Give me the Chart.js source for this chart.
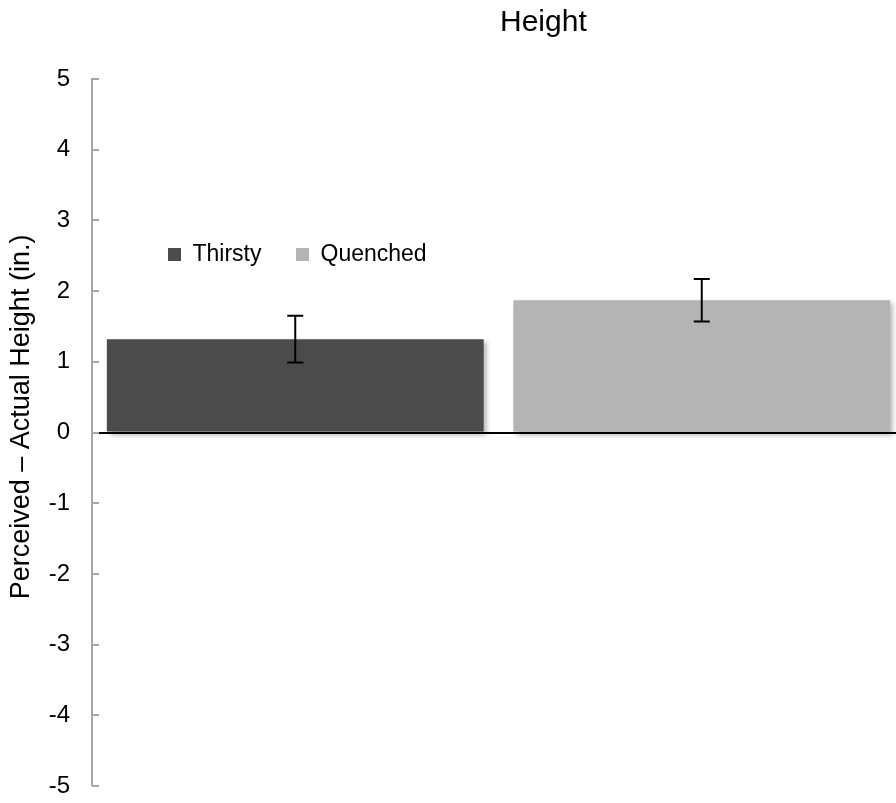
<!DOCTYPE html>
<html>
<head>
<meta charset="utf-8">
<script src="https://cdn.jsdelivr.net/npm/chart.js@4"></script>
<style>
  html, body { margin: 0; padding: 0; background: #fff; overflow: hidden; }
  #wrap { position: relative; width: 910px; height: 803px; }
  #heightChart { display: block; }
  #title {
    position: absolute; left: 500px; top: 6px;
    font: 30px/30px "Liberation Sans", Arial, Helvetica, sans-serif;
    color: #000; white-space: nowrap;
  }
</style>
</head>
<body>
<div id="wrap">
  <div id="title">Height</div>
  <canvas id="heightChart" width="910" height="803"></canvas>
</div>
<script>
// values
const categories = ['Height'];
const groups = ['Thirsty', 'Quenched'];
const thirsty = [1.32];
const quenched = [1.87];
const thirstyErr = [0.33];
const quenchedErr = [0.30];
const yTicks = [-5, -4, -3, -2, -1, 0, 1, 2, 3, 4, 5];
const yTitle = 'Perceived – Actual Height (in.)';

const fontFamily = '"Liberation Sans", Arial, Helvetica, sans-serif';
Chart.defaults.font.family = fontFamily;
Chart.defaults.color = '#000';

const axisGray = '#a8a8a8';

// move the legend inside the plot, without it taking layout space
const legendSpot = {
    id: 'legendSpot',
    beforeUpdate(chart) {
        const lg = chart.legend;
        if (!lg || lg._spotted) return;
        const fit = lg.fit;
        lg.fit = function () {
            fit.call(this);
            this._fullH = this.height;
            this.height = 0;
        };
        lg._spotted = true;
    },
    afterLayout(chart) {
        const lg = chart.legend;
        lg.left = 133.5;
        lg.top = 208.5;
        lg.width = 500;
        lg.height = lg._fullH;
        lg.right = lg.left + lg.width;
        lg.bottom = lg.top + lg.height;
    }
};

// soft shadow under bars, then error bars, inward ticks and axis title
const barExtras = {
    id: 'barExtras',
    beforeDatasetsDraw(chart) {
        const ctx = chart.ctx;
        ctx.save();
        ctx.shadowColor = 'rgba(0,0,0,0.3)';
        ctx.shadowBlur = 5;
        ctx.shadowOffsetX = 3;
        ctx.shadowOffsetY = 3;
    },
    afterDatasetsDraw(chart) {
        const ctx = chart.ctx;
        ctx.restore();
        const y = chart.scales.y;
        ctx.save();
        ctx.strokeStyle = '#000';
        ctx.lineWidth = 2;
        chart.data.datasets.forEach((ds, i) => {
            const meta = chart.getDatasetMeta(i);
            meta.data.forEach((bar, j) => {
                const v = ds.data[j], e = ds.errors[j];
                const top = y.getPixelForValue(v + e);
                const bot = y.getPixelForValue(v - e);
                const x = bar.x, cap = 8;
                ctx.beginPath();
                ctx.moveTo(x, top); ctx.lineTo(x, bot);
                ctx.moveTo(x - cap, top); ctx.lineTo(x + cap, top);
                ctx.moveTo(x - cap, bot); ctx.lineTo(x + cap, bot);
                ctx.stroke();
            });
        });
        ctx.restore();
    },
    afterDraw(chart) {
        const y = chart.scales.y;
        const ctx = chart.ctx;
        const x0 = chart.chartArea.left;
        ctx.save();
        ctx.strokeStyle = axisGray;
        ctx.lineWidth = 2;
        ctx.beginPath();
        y.ticks.forEach(t => {
            const py = Math.round(y.getPixelForValue(t.value));
            ctx.moveTo(x0, py);
            ctx.lineTo(x0 + 7, py);
        });
        ctx.stroke();
        // axis title, sitting a little above the middle as in the original
        ctx.translate(22, y.getPixelForValue(0.22));
        ctx.rotate(-Math.PI / 2);
        ctx.font = '27px ' + fontFamily;
        ctx.fillStyle = '#000';
        ctx.textAlign = 'center';
        ctx.textBaseline = 'middle';
        ctx.fillText(yTitle, 0, 0);
        ctx.restore();
    }
};

let heightChart;

function initChart() {
    heightChart = new Chart(document.getElementById('heightChart'), {
        type: 'bar',
        data: {
            labels: categories,
            datasets: [{
                label: groups[0],
                data: thirsty,
                errors: thirstyErr,
                backgroundColor: '#4b4b4b',
                borderWidth: 0
            }, {
                label: groups[1],
                data: quenched,
                errors: quenchedErr,
                backgroundColor: '#b4b4b4',
                borderWidth: 0
            }]
        },
        options: {
            responsive: false,
            animation: false,
            categoryPercentage: 1,
            barPercentage: 0.927,
            layout: {
                padding: { left: 0, right: 5, top: 79, bottom: 17 }
            },
            plugins: {
                title: { display: false },
                tooltip: { enabled: false },
                legend: {
                    display: true,
                    position: 'top',
                    align: 'start',
                    labels: {
                        boxWidth: 13,
                        boxHeight: 13,
                        padding: 34.5,
                        font: { size: 23 },
                        color: '#000'
                    }
                }
            },
            scales: {
                x: {
                    display: false
                },
                y: {
                    min: -5,
                    max: 5,
                    afterBuildTicks: scale => {
                        scale.ticks = yTicks.map(v => ({ value: v }));
                    },
                    afterFit: scale => {
                        scale.width = 92;
                        scale.paddingTop = 0;
                        scale.paddingBottom = 0;
                    },
                    border: { display: true, color: axisGray, width: 2, z: 1 },
                    grid: {
                        z: 1,
                        drawTicks: false,
                        color: ctx => ctx.tick && ctx.tick.value === 0 ? '#000' : 'rgba(0,0,0,0)',
                        lineWidth: ctx => ctx.tick && ctx.tick.value === 0 ? 2 : 0
                    },
                    ticks: {
                        padding: 22,
                        font: { size: 24 },
                        color: '#000'
                    },
                    title: { display: false }
                }
            }
        },
        plugins: [legendSpot, barExtras]
    });
}

document.addEventListener('DOMContentLoaded', initChart);
</script>
</body>
</html>
